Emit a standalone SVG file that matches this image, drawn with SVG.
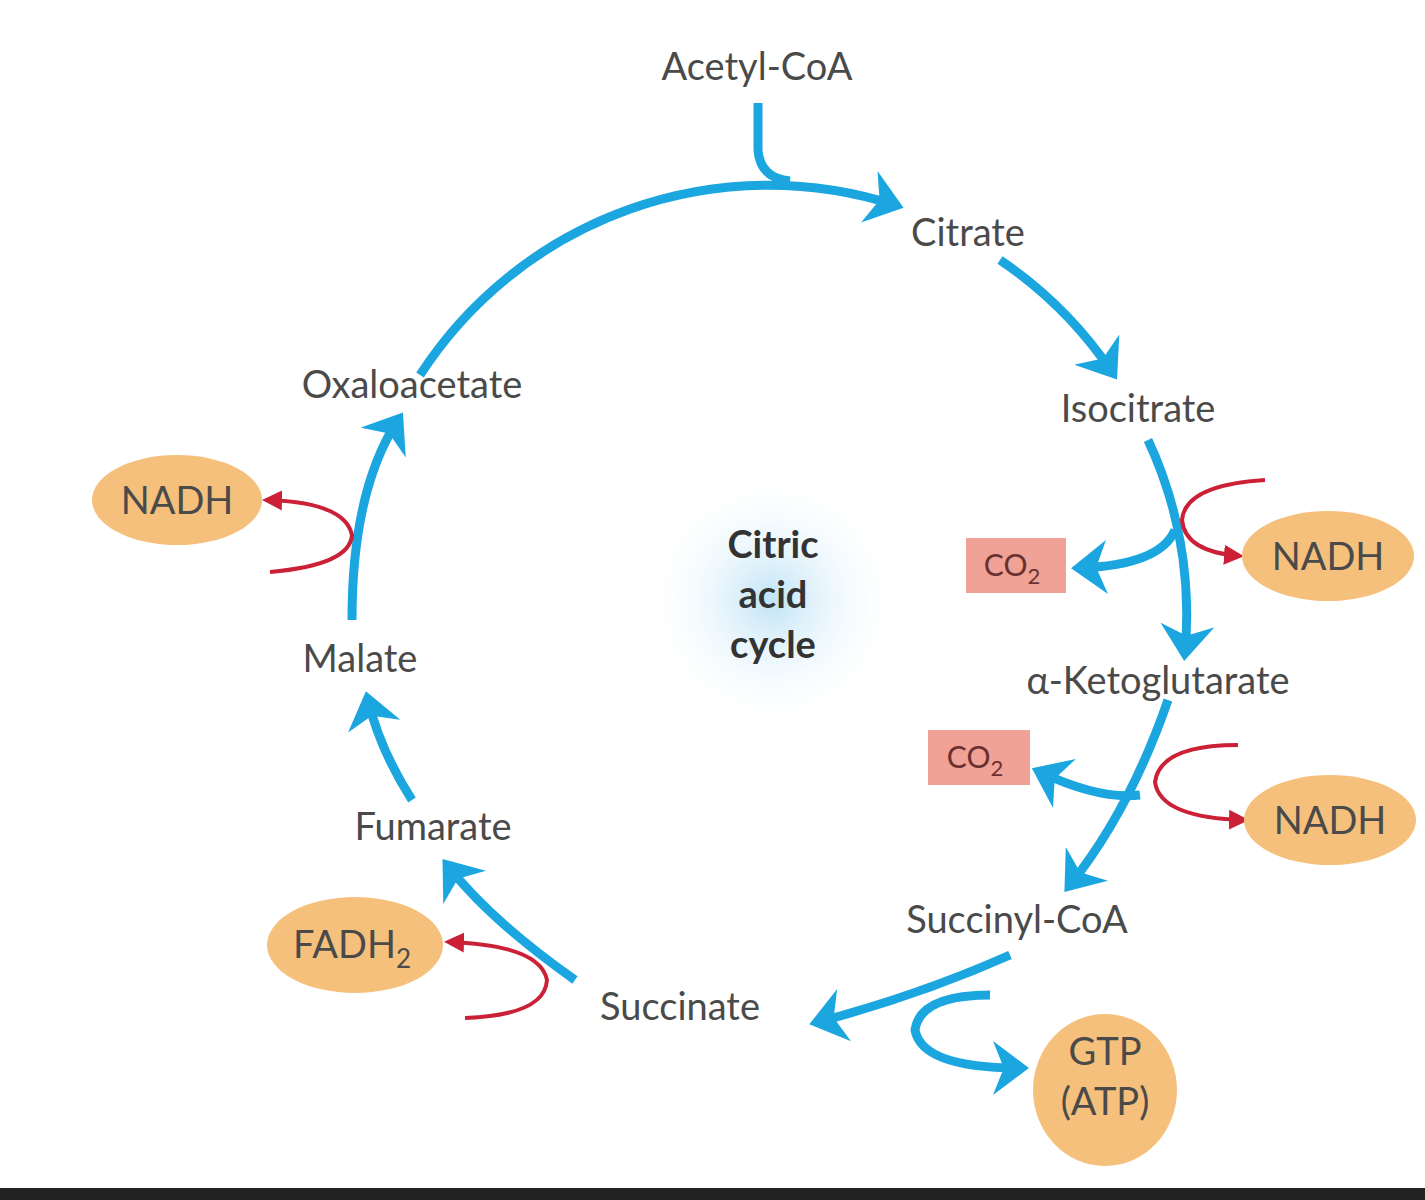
<svg xmlns="http://www.w3.org/2000/svg" width="1425" height="1200" viewBox="0 0 1425 1200">
<style>
text{font-family:Lato,"Liberation Sans",sans-serif;fill:#4a4a4a;font-size:38px;text-anchor:middle}
.b{stroke:#1ba6e0;stroke-width:9;fill:none;marker-end:url(#ab)}
.bn{stroke:#1ba6e0;stroke-width:9;fill:none}
.r{stroke:#cc2036;stroke-width:4;fill:none;marker-end:url(#ar)}
.o{fill:#f5c07c}
.c{fill:#f0a296}
</style>
<defs>
<marker id="ab" markerWidth="6" markerHeight="6" refX="3" refY="3" orient="auto" markerUnits="strokeWidth"><path d="M0,0 L4,3 L0,6 L1.2,3 Z" fill="#1ba6e0"/></marker>
<marker id="ar" markerWidth="6" markerHeight="6" refX="4" refY="3" orient="auto" markerUnits="strokeWidth"><path d="M0,0.5 L5,3 L0,5.5 Z" fill="#cc2036"/></marker>
<radialGradient id="g"><stop offset="0" stop-color="#bfe3f6"/><stop offset="1" stop-color="#ffffff" stop-opacity="0"/></radialGradient>
</defs>
<rect width="1425" height="1200" fill="#fff"/>
<rect x="0" y="1188" width="1425" height="12" fill="#222"/>
<circle cx="772" cy="600" r="130" fill="url(#g)"/>
<g id="connectors">
<path class="b" d="M420,375 A415,415 0 0 1 895,205"/>
<path class="bn" d="M758,103 L758,150 Q760,178 790,181"/>
<path class="b" d="M1000,260 A415,415 0 0 1 1112,372"/>
<path class="b" d="M1148,440 A415,415 0 0 1 1185,652"/>
<path class="b" d="M1175,530 Q1160,565 1080,568"/>
<path class="r" d="M1265,480 Q1185,485 1182,520 Q1185,552 1240,556"/>
<path class="b" d="M1168,700 Q1130,810 1070,885"/>
<path class="b" d="M1140,795 Q1100,800 1040,772"/>
<path class="r" d="M1238,745 Q1160,745 1155,782 Q1160,818 1245,820"/>
<path class="b" d="M1010,955 Q920,995 818,1022"/>
<path class="b" d="M990,995 Q920,995 915,1030 Q922,1068 1020,1068"/>
<path class="b" d="M575,980 Q490,920 448,866"/>
<path class="r" d="M465,1018 Q545,1015 547,980 Q540,945 448,942"/>
<path class="b" d="M412,800 Q380,750 368,700"/>
<path class="b" d="M352,620 Q352,490 398,420"/>
<path class="r" d="M270,572 Q350,565 352,535 Q345,502 266,500"/>
</g>
<g id="acetyl"><text x="757" y="80">Acetyl-CoA</text></g>
<g id="citrate"><text x="968" y="246">Citrate</text></g>
<g id="isocitrate"><text x="1138" y="422">Isocitrate</text></g>
<g id="akg"><text x="1158" y="694">α-Ketoglutarate</text></g>
<g id="succinylcoa"><text x="1017" y="933">Succinyl-CoA</text></g>
<g id="succinate"><text x="680" y="1020">Succinate</text></g>
<g id="fumarate"><text x="433" y="840">Fumarate</text></g>
<g id="malate"><text x="360" y="672">Malate</text></g>
<g id="oxaloacetate"><text x="412" y="398">Oxaloacetate</text></g>
<g id="center" font-weight="bold"><text x="773" y="558" style="font-weight:bold;fill:#333">Citric</text><text x="773" y="608" style="font-weight:bold;fill:#333">acid</text><text x="773" y="658" style="font-weight:bold;fill:#333">cycle</text></g>
<g id="nadh1"><ellipse class="o" cx="177" cy="500" rx="85" ry="45"/><text x="177" y="514">NADH</text></g>
<g id="nadh2"><ellipse class="o" cx="1328" cy="556" rx="86" ry="45"/><text x="1328" y="570">NADH</text></g>
<g id="nadh3"><ellipse class="o" cx="1330" cy="820" rx="86" ry="45"/><text x="1330" y="834">NADH</text></g>
<g id="fadh2"><ellipse class="o" cx="355" cy="945" rx="88" ry="48"/><text x="352" y="958">FADH<tspan font-size="26" dy="10">2</tspan></text></g>
<g id="gtp"><ellipse class="o" cx="1105" cy="1090" rx="72" ry="76"/><text x="1105" y="1065">GTP</text><text x="1105" y="1115">(ATP)</text></g>
<g id="co2a"><rect class="c" x="966" y="538" width="100" height="55"/><text x="1012" y="576" font-size="30" style="font-size:30px;fill:#6a3030">CO<tspan font-size="22" dy="8">2</tspan></text></g>
<g id="co2b"><rect class="c" x="928" y="730" width="102" height="55"/><text x="975" y="768" style="font-size:30px;fill:#6a3030">CO<tspan font-size="22" dy="8">2</tspan></text></g>
</svg>
